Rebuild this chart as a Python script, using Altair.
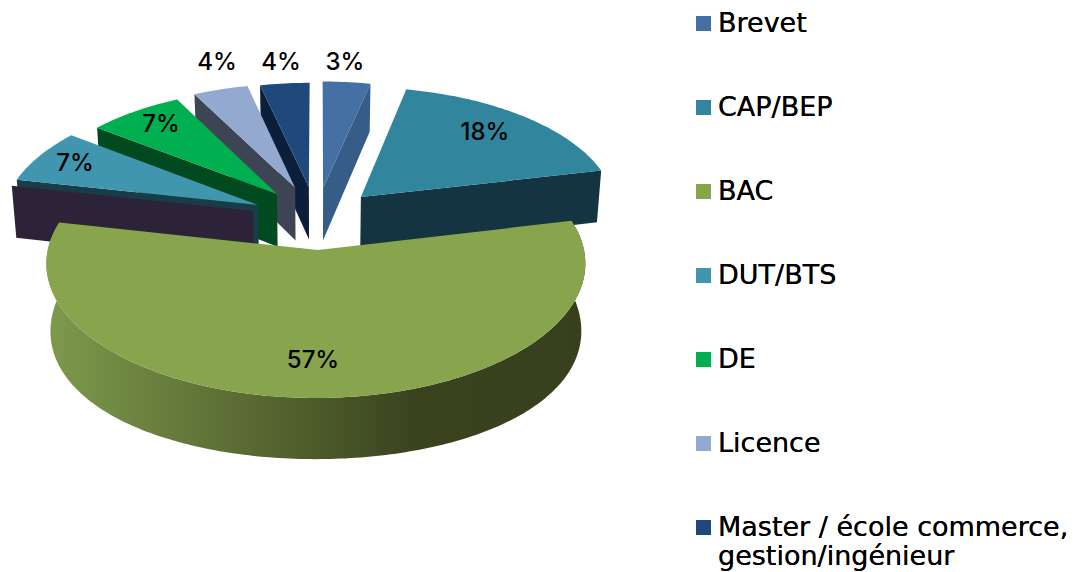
import math
import altair as alt

categories = ["Brevet", "CAP/BEP", "BAC", "DUT/BTS", "DE", "Licence",
              "Master / école commerce, gestion/ingénieur"]
shares = [3.4, 18, 57, 7, 7, 4, 3.6]
labels = ["3%", "18%", "57%", "7%", "7%", "4%", "4%"]
top_colors = ["#4470A6", "#31859C", "#88A44C", "#4095AF", "#00B050", "#93A9CF", "#1F497D"]
wall_colors = ["#355D87", "#133440", "#7E9A4C", "#193C49", "#014A20", "#3D4555", "#0C1F3A"]

# --- 3D pie look ---
CX, CY = 310, 242      # pie centre in chart coordinates
RX, RY = 266, 132      # ellipse radii
P = 0.1                # perspective strength
DEPTH = 55             # extrusion depth
SHRINK = 0.985         # bottom rim shrink
# explosion of every slice on the ground plane, and its radius
explode = {"Brevet": (0.02, -0.493, 0.97), "CAP/BEP": (0.168, -0.418, 0.99), "BAC": (-0.008, 0, 1.008),
           "DUT/BTS": (-0.2335, -0.353, 0.985), "DE": (-0.161, -0.443, 0.95),
           "Licence": (-0.09, -0.493, 0.95),
           categories[6]: (-0.036, -0.5, 0.95)}
# side of the slice whose radial wall shows: True is its closing edge
wall_at_end = {"Brevet": True, "CAP/BEP": True, "DUT/BTS": False, "DE": False,
               "Licence": False, categories[6]: False}
label_xy = [(337, 55), (477, 125), (305, 353), (67, 156), (153, 117), (209, 55), (273, 55)]


def project(X, Y, bottom=False, extra=1.0):
    s = 1 / (1 - P * Y)
    x = CX + RX * X * s
    y = CY + RY * Y * s
    if bottom:
        x = CX + (x - CX) * SHRINK
        y += DEPTH * s * extra
    return [round(x, 2), round(y, 2)]


def rim(name, theta):
    ax, ay, r = explode[name]
    t = math.radians(theta)
    return ax + r * math.sin(t), ay - r * math.cos(t)


def feature(ring, **props):
    ring = ring + [ring[0]]
    return {"type": "Feature", "properties": props,
            "geometry": {"type": "Polygon", "coordinates": [ring]}}


total = sum(shares)
angles = {}
start = 0.0
for name, share in zip(categories, shares):
    angles[name] = (start, start + share * 360 / total)
    start += share * 360 / total

early, wall_f = [], []
order = ["Brevet", categories[6], "Licence", "DE", "DUT/BTS", "CAP/BEP"]
for name in order:
    a0, a1 = angles[name]
    ax, ay, _ = explode[name]
    steps = max(2, int(a1 - a0))
    arc = [project(*rim(name, a0 + (a1 - a0) * i / steps)) for i in range(steps + 1)]
    early.append(feature([project(ax, ay)] + arc, cat=name))
    edge = a1 if wall_at_end[name] else a0
    e = rim(name, edge)
    quad = [project(ax, ay), project(*e), project(*e, True), project(ax, ay, True)]
    wall_f.append(feature(quad, col=wall_colors[categories.index(name)]))
    if name == "DUT/BTS":
        wall_f.append(feature([[p[0] - 5, p[1] + 6] for p in quad], col="#2C2338"))

a0, a1 = angles["BAC"]
steps = int(a1 - a0)
thetas = [a0 + (a1 - a0) * i / steps for i in range(steps + 1)]
arc = [project(*rim("BAC", t)) for t in thetas]
low = [project(*rim("BAC", t), True, 1 + 0.22 * math.sin(math.radians(t)) ** 2) for t in thetas]
bac_wall = [feature(arc + low[::-1], cat="BAC")]
late = [feature([project(0, 0)] + arc, cat="BAC")]

proj = alt.Projection(type="identity", scale=1, translate=[0, 0]).to_dict()

walls = alt.Chart(alt.Data(values=wall_f)).mark_geoshape(strokeWidth=0).encode(
    color=alt.Color("properties.col:N", scale=None, legend=None)
).project(**proj)

bac_side = alt.Chart(alt.Data(values=bac_wall)).mark_geoshape(
    strokeWidth=0,
    fill=alt.Gradient(gradient="linear", x1=0, x2=1, y1=0, y2=0, stops=[
        alt.GradientStop(offset=0, color="#7E9A4C"),
        alt.GradientStop(offset=0.68, color="#3A431E"),
        alt.GradientStop(offset=1, color="#37401C")]),
).project(**proj)

color = alt.Color(
    "properties.cat:N",
    scale=alt.Scale(domain=categories, range=top_colors),
    legend=alt.Legend(
        title=None, orient="none", legendX=682, legendY=2, padding=0,
        symbolType="square", symbolSize=225, symbolStrokeWidth=0, symbolOpacity=1,
        labelFont="DejaVu Sans", labelFontSize=27, labelColor="#000000", labelLimit=500,
        labelOffset=1, rowPadding=56, values=categories,
        labelExpr="split(replace(datum.label, ', ', ',|'), '|')",
    ),
)

tops1 = alt.Chart(alt.Data(values=early)).mark_geoshape(strokeWidth=0).encode(color=color).project(**proj)
tops2 = alt.Chart(alt.Data(values=late)).mark_geoshape(strokeWidth=0).encode(color=color).project(**proj)

label_data = [{"t": t, "x": p[0], "y": p[1]} for t, p in zip(labels, label_xy)]
text = alt.Chart(alt.Data(values=label_data)).mark_text(
    font="Inter", fontSize=24, fontWeight=500, color="#000000", align="center", baseline="middle"
).encode(
    x=alt.X("x:Q", scale=alt.Scale(domain=[0, 1059], range=[0, 1059]), axis=None),
    y=alt.Y("y:Q", scale=alt.Scale(domain=[0, 556], range=[0, 556]), axis=None),
    text="t:N",
)

chart = alt.layer(walls, tops1, bac_side, tops2, text).resolve_scale(color="independent").properties(
    width=1059, height=563, padding=0, autosize=alt.AutoSizeParams(type="none"), background="#FFFFFF"
).configure_view(stroke=None)

chart.save("out.html", embed_options={"renderer": "svg", "actions": False})
